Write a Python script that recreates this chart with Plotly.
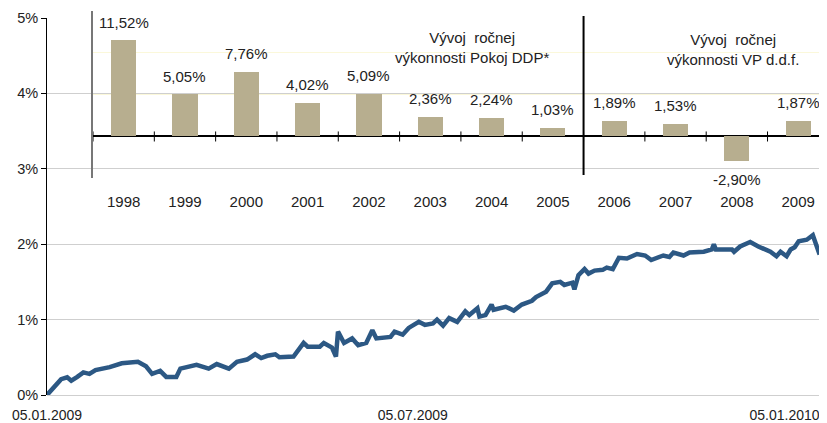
import pandas as pd
import plotly.graph_objs as go

# daily performance line (days since 05.01.2009, value in %)
day_offsets = [0, 4, 7, 10, 12, 15, 18, 21, 24, 31, 37, 45, 49, 52, 56, 59, 64, 66, 72, 74,
               80, 84, 90, 94, 99, 103, 106, 109, 113, 115, 122, 127, 129, 135, 137, 141, 143, 144, 147, 151,
               154, 158, 161, 163, 170, 172, 176, 179, 184, 187, 191, 193, 196, 199, 203, 207, 209, 213, 214, 217,
               220, 221, 227, 231, 235, 240, 242, 247, 250, 254, 256, 260, 261, 263, 266, 268, 271, 275, 277, 280,
               283, 287, 292, 296, 299, 305, 308, 310, 315, 318, 325, 329, 330, 331, 339, 340, 343, 348, 352, 358,
               361, 363, 366, 368, 370, 372, 376, 379, 382, 386]
performance = [0.00, 0.13, 0.21, 0.235, 0.19, 0.24, 0.30, 0.28, 0.33, 0.37, 0.42, 0.44, 0.38, 0.28, 0.32, 0.24, 0.24, 0.35, 0.38, 0.40,
               0.35, 0.41, 0.35, 0.44, 0.47, 0.54, 0.49, 0.52, 0.54, 0.50, 0.51, 0.69, 0.64, 0.64, 0.69, 0.63, 0.51, 0.84, 0.69, 0.75,
               0.66, 0.69, 0.86, 0.75, 0.77, 0.84, 0.80, 0.89, 0.97, 0.93, 0.95, 1.00, 0.92, 1.02, 0.97, 1.11, 1.06, 1.15, 1.04, 1.06,
               1.20, 1.13, 1.17, 1.12, 1.20, 1.25, 1.30, 1.37, 1.48, 1.50, 1.46, 1.49, 1.40, 1.59, 1.67, 1.61, 1.65, 1.66, 1.69, 1.67,
               1.82, 1.81, 1.87, 1.85, 1.79, 1.85, 1.83, 1.89, 1.85, 1.89, 1.90, 1.93, 2.00, 1.93, 1.93, 1.90, 1.97, 2.03, 1.97, 1.90,
               1.84, 1.90, 1.84, 1.93, 1.96, 2.04, 2.06, 2.12, 1.89, 1.92]
start_date = '2009-01-05'
end_date = '2010-01-26'
x_tick_dates = ['2009-01-05', '2009-07-05', '2010-01-05']
x_tick_labels = ['05.01.2009', '05.07.2009', '05.01.2010']
y_tick_values = [0, 1, 2, 3, 4, 5]

# yearly performance inset
years = ['1998', '1999', '2000', '2001', '2002', '2003', '2004', '2005', '2006', '2007', '2008', '2009']
yearly_perf = [11.52, 5.05, 7.76, 4.02, 5.09, 2.36, 2.24, 1.03, 1.89, 1.53, -2.90, 1.87]
title_ddp = 'Vývoj&nbsp; ročnej<br>výkonnosti Pokoj DDP*'
title_vp = 'Vývoj&nbsp; ročnej<br>výkonnosti VP d.d.f.'

PCT = '&#37;'
dates = pd.Timestamp(start_date) + pd.to_timedelta(day_offsets, unit='D')
font_family = 'Liberation Sans, Arial, sans-serif'

# the page body has an 8px margin, so the figure is 8px smaller than the window
W, H = 819, 415
plot_top, plot_bottom = 2, 387
plot_h = plot_bottom - plot_top

fig = go.Figure()

fig.add_trace(go.Scatter(
    x=dates,
    y=performance,
    mode='lines',
    line=dict(color='#2c5884', width=4.5),
    showlegend=False,
    xaxis='x',
    yaxis='y'
))

fig.add_trace(go.Bar(
    x=list(range(len(years))),
    y=yearly_perf,
    marker=dict(color='#b7ae8f', line=dict(width=0)),
    width=0.41,
    showlegend=False,
    xaxis='x2',
    yaxis='y2'
))

annotations = []
for i, val in enumerate(yearly_perf):
    annotations.append(dict(
        x=i, y=val, xref='x2', yref='y2',
        text=f'{val:.2f}'.replace('.', ',') + PCT,
        showarrow=False,
        yshift=18 if val >= 0 else -19,
        font=dict(size=15, color='#222222', family=font_family)
    ))

annotations.append(dict(x=5.68, y=10.65, xref='x2', yref='y2', text=title_ddp, showarrow=False,
                        font=dict(size=15, color='#222222', family=font_family)))
annotations.append(dict(x=9.94, y=10.4, xref='x2', yref='y2', text=title_vp, showarrow=False,
                        font=dict(size=15, color='#222222', family=font_family)))

shapes = [dict(type='line', xref='x2', yref='y2', x0=7.5, x1=7.5, y0=-4.6, y1=14.4,
               line=dict(color='black', width=2))]
for k in range(len(years) + 1):
    shapes.append(dict(type='line', xref='x2', yref='y2', x0=k - 0.5, x1=k - 0.5, y0=-0.6, y1=0.6,
                       line=dict(color='black', width=1)))

fig.update_layout(
    template='none',
    width=W,
    height=H,
    margin=dict(l=0, r=0, t=plot_top, b=H - plot_bottom),
    paper_bgcolor='white',
    plot_bgcolor='rgba(0,0,0,0)',
    font=dict(family=font_family, size=14, color='#222222'),
    xaxis=dict(
        domain=[39 / W, 1],
        range=[start_date, end_date],
        tickvals=x_tick_dates,
        ticktext=x_tick_labels,
        showgrid=False,
        showline=False,
        zeroline=False,
        ticks='outside',
        ticklen=7,
        tickcolor='rgba(0,0,0,0)',
        automargin=False,
        tickfont=dict(size=14)
    ),
    yaxis=dict(
        domain=[0, (plot_bottom - 10) / plot_h],
        range=[0, 5],
        tickvals=y_tick_values,
        ticktext=[f'{v}' + PCT for v in y_tick_values],
        showline=True,
        linecolor='black',
        linewidth=1,
        ticks='outside',
        ticklen=5,
        tickcolor='black',
        showgrid=True,
        gridcolor='#cfcfcf',
        gridwidth=1,
        zeroline=True,
        zerolinecolor='#cfcfcf',
        zerolinewidth=1,
        automargin=False,
        tickfont=dict(size=14.5)
    ),
    xaxis2=dict(
        domain=[85 / W, 1],
        anchor='y2',
        range=[-0.5, 11.47],
        tickvals=list(range(len(years))),
        ticktext=years,
        showgrid=False,
        showline=False,
        zeroline=False,
        ticks='outside',
        ticklen=10,
        tickcolor='rgba(0,0,0,0)',
        automargin=False,
        tickfont=dict(size=15)
    ),
    yaxis2=dict(
        domain=[(plot_bottom - 170.3) / plot_h, (plot_bottom - 3) / plot_h],
        anchor='x2',
        range=[-5, 15],
        dtick=5,
        showticklabels=False,
        ticks='',
        showline=True,
        linecolor='#777777',
        linewidth=2,
        showgrid=True,
        gridcolor='#fbf8da',
        zeroline=True,
        zerolinecolor='black',
        zerolinewidth=1.5,
        automargin=False
    ),
    annotations=annotations,
    shapes=shapes,
    bargap=0
)

fig.write_html('out.html')
